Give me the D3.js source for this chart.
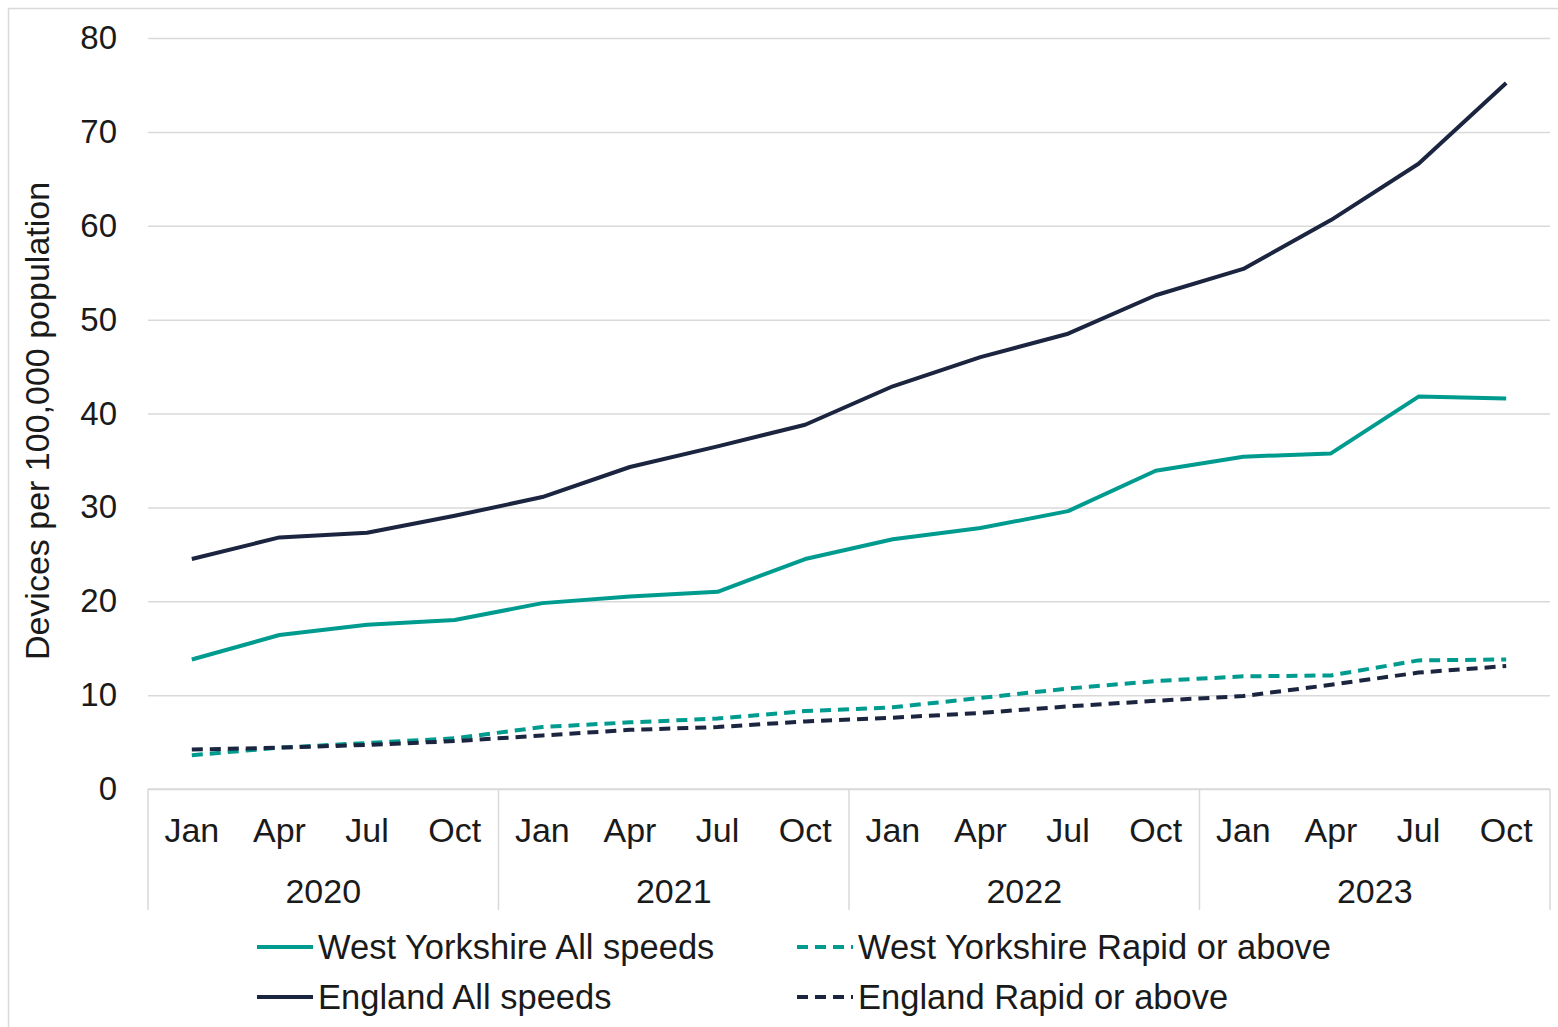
<!DOCTYPE html>
<html>
<head>
<meta charset="utf-8">
<script src="https://cdn.jsdelivr.net/npm/d3@7"></script>
<style>
  html, body { margin: 0; padding: 0; background: #ffffff; }
  svg { display: block; font-family: "Liberation Sans", Arial, sans-serif; }
</style>
</head>
<body>
<svg id="chart" width="1558" height="1027"></svg>
<script>
// ---- data ----
const months = ["Jan", "Apr", "Jul", "Oct", "Jan", "Apr", "Jul", "Oct", "Jan", "Apr", "Jul", "Oct", "Jan", "Apr", "Jul", "Oct"];
const years = ["2020", "2021", "2022", "2023"];
const yTicks = [0, 10, 20, 30, 40, 50, 60, 70, 80];

const wyAll = [13.8, 16.4, 17.5, 18.0, 19.8, 20.5, 21.0, 24.5, 26.6, 27.8, 29.6, 33.9, 35.4, 35.75, 41.8, 41.6];
const wyRapid = [3.6, 4.4, 4.9, 5.4, 6.6, 7.1, 7.5, 8.3, 8.7, 9.7, 10.7, 11.5, 12.0, 12.1, 13.7, 13.8];
const engAll = [24.5, 26.8, 27.3, 29.1, 31.1, 34.3, 36.5, 38.8, 42.9, 46.0, 48.5, 52.6, 55.4, 60.6, 66.6, 75.2];
const engRapid = [4.2, 4.4, 4.7, 5.1, 5.7, 6.3, 6.6, 7.2, 7.6, 8.1, 8.8, 9.4, 9.9, 11.1, 12.4, 13.1];

const seriesNames = ["West Yorkshire All speeds", "West Yorkshire Rapid or above", "England All speeds", "England Rapid or above"];

(function () {
  // ---- styling ----
  const TEAL = "#009b8f";
  const NAVY = "#1b2540";
  const GRID = "#d9d9d9";
  const TEXT = "#1a1a1a";
  const FONT = "'Liberation Sans', Arial, sans-serif";
  const DASH = "11,7";

  const series = [
    { name: seriesNames[0], values: wyAll, color: TEAL, dash: null },
    { name: seriesNames[2], values: engAll, color: NAVY, dash: null },
    { name: seriesNames[1], values: wyRapid, color: TEAL, dash: DASH },
    { name: seriesNames[3], values: engRapid, color: NAVY, dash: DASH }
  ];

  const svg = d3.select("#chart");
  const pLeft = 148, pRight = 1550, pTop = 38, pBottom = 789;

  // outer border
  svg.append("path")
    .attr("d", "M8.5,1027 V8.5 H1558")
    .attr("fill", "none").attr("stroke", GRID).attr("stroke-width", 1.5);

  const x = d3.scaleBand().domain(d3.range(months.length)).range([pLeft, pRight]).padding(0);
  const y = d3.scaleLinear().domain([0, 80]).range([pBottom, pTop]);

  // gridlines + y tick labels
  const yAxis = d3.axisLeft(y).tickValues(yTicks).tickSize(-(pRight - pLeft)).tickPadding(31);
  const gy = svg.append("g").attr("transform", `translate(${pLeft},0)`).call(yAxis);
  gy.select(".domain").remove();
  gy.selectAll(".tick line").attr("stroke", GRID).attr("stroke-width", 1.5);
  gy.selectAll(".tick text").attr("font-size", 33).attr("fill", TEXT).attr("font-family", FONT);

  // x axis line
  svg.append("line").attr("x1", pLeft).attr("x2", pRight).attr("y1", pBottom).attr("y2", pBottom)
    .attr("stroke", GRID).attr("stroke-width", 1.5);

  // month labels
  const xAxis = d3.axisBottom(x).tickSize(0).tickPadding(29).tickFormat(i => months[i]);
  const gx = svg.append("g").attr("transform", `translate(0,${pBottom})`).call(xAxis);
  gx.select(".domain").remove();
  gx.selectAll(".tick text").attr("font-size", 34).attr("fill", TEXT).attr("font-family", FONT);

  // year group separators and labels
  const groupEdges = d3.range(years.length + 1).map(g => g < years.length ? x(g * 4) : pRight);
  svg.append("g").selectAll("line").data(groupEdges).join("line")
    .attr("x1", d => d).attr("x2", d => d).attr("y1", pBottom).attr("y2", 910)
    .attr("stroke", GRID).attr("stroke-width", 1.5);
  svg.append("g").selectAll("text").data(years).join("text")
    .attr("x", (d, i) => (groupEdges[i] + groupEdges[i + 1]) / 2)
    .attr("y", 903)
    .attr("text-anchor", "middle")
    .attr("font-size", 34).attr("fill", TEXT).attr("font-family", FONT)
    .text(d => d);

  // y axis title
  svg.append("text")
    .attr("transform", "translate(49,421) rotate(-90)")
    .attr("text-anchor", "middle")
    .attr("font-size", 34).attr("fill", TEXT).attr("font-family", FONT)
    .text("Devices per 100,000 population");

  // lines
  const line = d3.line().x((d, i) => x(i) + x.bandwidth() / 2).y(d => y(d));
  svg.append("g").selectAll("path").data(series).join("path")
    .attr("d", d => line(d.values))
    .attr("fill", "none")
    .attr("stroke", d => d.color)
    .attr("stroke-width", 4)
    .attr("stroke-dasharray", d => d.dash)
    .attr("stroke-linejoin", "round");

  // legend
  const legendItems = [
    { name: seriesNames[0], color: TEAL, dash: null, lx: 257, ly: 947 },
    { name: seriesNames[1], color: TEAL, dash: DASH, lx: 797, ly: 947 },
    { name: seriesNames[2], color: NAVY, dash: null, lx: 257, ly: 997 },
    { name: seriesNames[3], color: NAVY, dash: DASH, lx: 797, ly: 997 }
  ];
  const lg = svg.append("g").selectAll("g").data(legendItems).join("g")
    .attr("transform", d => `translate(${d.lx},${d.ly})`);
  lg.append("line").attr("x1", 0).attr("x2", 56).attr("y1", 0).attr("y2", 0)
    .attr("stroke", d => d.color).attr("stroke-width", 4)
    .attr("stroke-dasharray", d => d.dash);
  lg.append("text").attr("x", 61).attr("y", 12)
    .attr("font-size", 34.5).attr("fill", TEXT).attr("font-family", FONT)
    .text(d => d.name);
})();
</script>
</body>
</html>
